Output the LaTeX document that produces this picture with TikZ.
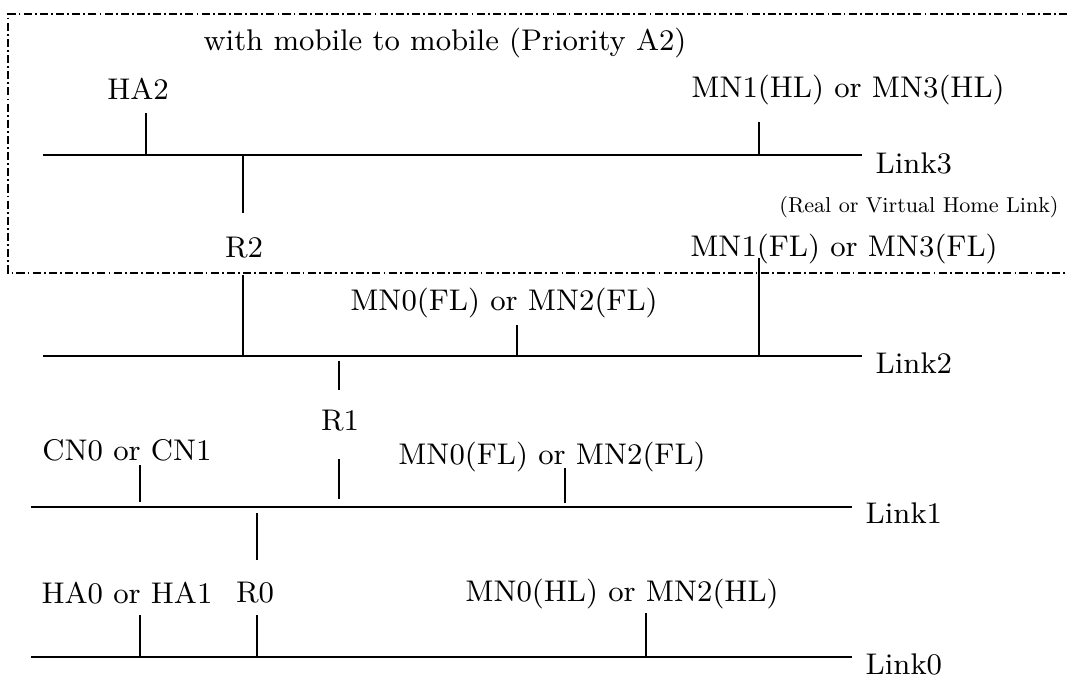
\documentclass[tikz,border=0pt]{standalone}
\usetikzlibrary{positioning}
\tikzset{
  bus/.style={line width=0.6pt},
  stub/.style={line width=0.6pt},
  zone/.style={line width=0.5pt, dash pattern=on 2.3pt off 0.9pt on 0.5pt off 0.9pt},
  lbl/.style={inner sep=0pt, font=\fontsize{8.5}{10}\selectfont},
  note/.style={inner sep=0pt, font=\fontsize{8.5}{10}\selectfont, scale=0.72},
  lname/.style={inner sep=0pt, font=\fontsize{8.5}{10}\selectfont}
}
\begin{document}
\begin{tikzpicture}[x=0.01cm, y=-0.01cm]
    \useasboundingbox (0,0) rectangle (1067,675);

        % Home link zone
        \coordinate (z1) at (1067,14);
        \coordinate (z2) at (8,14);
        \coordinate (z3) at (8,273);
        \coordinate (z4) at (1067,273);
        \draw[zone] (z1) -- (z2) -- (z3) -- (z4);
        \node[lbl] (title) at (445,43) {with mobile to mobile (Priority A2)};

        % Define links
        \coordinate (l3a) at (43,155);  \coordinate (l3b) at (862,155);
        \coordinate (l2a) at (43,356);  \coordinate (l2b) at (862,356);
        \coordinate (l1a) at (31,507);  \coordinate (l1b) at (852,507);
        \coordinate (l0a) at (31,657);  \coordinate (l0b) at (852,657);
        \draw[bus] (l3a) -- (l3b);
        \draw[bus] (l2a) -- (l2b);
        \draw[bus] (l1a) -- (l1b);
        \draw[bus] (l0a) -- (l0b);
        \node[lname, right=0.13cm of l3b, yshift=-0.08cm] (n3) {Link3};
        \node[lname, right=0.13cm of l2b, yshift=-0.07cm] (n2) {Link2};
        \node[lname, right=0.13cm of l1b, yshift=-0.06cm] (n1) {Link1};
        \node[lname, right=0.13cm of l0b, yshift=-0.07cm] (n0) {Link0};
        \node[note] (home) at (919,207) {(Real or Virtual Home Link)};

        % Define labels
        \node[lbl] (ha2)  at (138,89)  {HA2};
        \node[lbl] (mn1h) at (848,90)  {MN1(HL) or MN3(HL)};
        \node[lbl] (r2)   at (244,248) {R2};
        \node[lbl] (mn1f) at (844,249) {MN1(FL) or MN3(FL)};
        \node[lbl] (mn0u) at (504,303) {MN0(FL) or MN2(FL)};
        \node[lbl] (r1)   at (340,421) {R1};
        \node[lbl] (cn0)  at (127,450) {CN0 or CN1};
        \node[lbl] (mn0l) at (552,457) {MN0(FL) or MN2(FL)};
        \node[lbl] (ha0)  at (127,593) {HA0 or HA1};
        \node[lbl] (r0)   at (255,593) {R0};
        \node[lbl] (mn0h) at (622,594) {MN0(HL) or MN2(HL)};

        % Stub ends
        \coordinate (ha2t) at (146,113);  \coordinate (ha2b) at (146,155);
        \coordinate (mn1ht) at (759,122); \coordinate (mn1hb) at (759,155);
        \coordinate (r2t) at (243,155);   \coordinate (r2m) at (243,213);
        \coordinate (r2n) at (243,275);   \coordinate (r2b) at (243,356);
        \coordinate (mn1ft) at (759,258); \coordinate (mn1fb) at (759,356);
        \coordinate (mn0ut) at (517,325); \coordinate (mn0ub) at (517,356);
        \coordinate (r1t) at (339,361);   \coordinate (r1m) at (339,390);
        \coordinate (r1n) at (339,459);   \coordinate (r1b) at (339,499);
        \coordinate (cn0t) at (140,465);  \coordinate (cn0b) at (140,502);
        \coordinate (mn0lt) at (565,468); \coordinate (mn0lb) at (565,503);
        \coordinate (r0t) at (257,513);   \coordinate (r0m) at (257,560);
        \coordinate (r0n) at (257,615);   \coordinate (r0b) at (257,657);
        \coordinate (ha0t) at (140,615);  \coordinate (ha0b) at (140,657);
        \coordinate (mn0ht) at (646,613); \coordinate (mn0hb) at (646,657);

        % Connect the stubs
        \draw[stub] (ha2t) -- (ha2b);
        \draw[stub] (mn1ht) -- (mn1hb);
        \draw[stub] (r2t) -- (r2m);
        \draw[stub] (r2n) -- (r2b);
        \draw[stub] (mn1ft) -- (mn1fb);
        \draw[stub] (mn0ut) -- (mn0ub);
        \draw[stub] (r1t) -- (r1m);
        \draw[stub] (r1n) -- (r1b);
        \draw[stub] (cn0t) -- (cn0b);
        \draw[stub] (mn0lt) -- (mn0lb);
        \draw[stub] (r0t) -- (r0m);
        \draw[stub] (r0n) -- (r0b);
        \draw[stub] (ha0t) -- (ha0b);
        \draw[stub] (mn0ht) -- (mn0hb);
\end{tikzpicture}
\end{document}
